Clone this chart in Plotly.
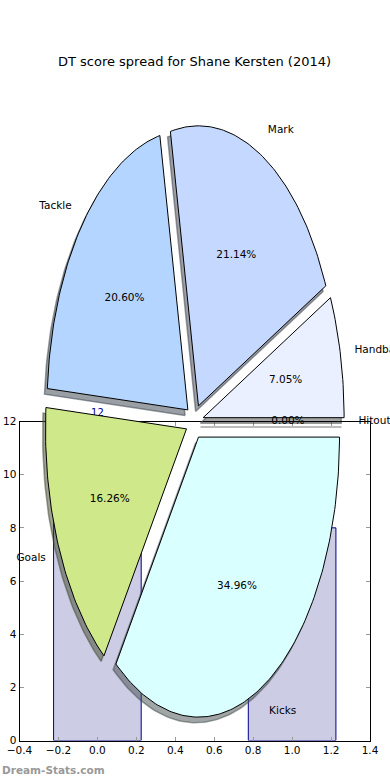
import numpy as np
import plotly.graph_objects as go

# ---------------- data ----------------
title = "DT score spread for Shane Kersten (2014)"
slice_labels = ["Handball", "Mark", "Tackle", "Goals", "Kicks", "Hitout"]
slice_pct = [7.05, 21.14, 20.60, 16.26, 34.96, 0.00]
slice_colors = ["#eaf0ff", "#c5d8ff", "#b4d5ff", "#cfe98a", "#d9ffff", "#ffffff"]
slice_explode = [0.0625, 0.0625, 0.0625, 0.0625, 0.0625, 0.0625]

bar_x = [0, 1]
bar_values = [12, 8]
bar_labels = ["12", "8"]

x_ticks = [-0.4, -0.2, 0.0, 0.2, 0.4, 0.6, 0.8, 1.0, 1.2, 1.4]
y_ticks = [0, 2, 4, 6, 8, 10, 12]

# ---------------- layout geometry ----------------
W, H = 390, 780
ax_left, ax_right, ax_top, ax_bottom = 19.5, 370, 421.5, 740.5   # bar axes in px
pie_cx, pie_cy, pie_rx, pie_ry = 194.5, 421.5, 141, 280          # pie placement in px
label_lift = 0.1                                                   # bar label offset (y units)
extra_px = 40                                                      # headroom for bar labels
FONT = "DejaVu Sans"

fig = go.Figure()

# ---------------- bars ----------------
fig.add_trace(go.Bar(
    x=bar_x, y=bar_values, width=0.45,
    marker=dict(color="#ccccE5", line=dict(color="#00008b", width=1)),
    xaxis="x", yaxis="y", showlegend=False, hoverinfo="skip"))
# bar value labels on a same-scale helper subplot with headroom (drawn below the pie)
fig.add_trace(go.Scatter(
    x=bar_x, y=[v + label_lift for v in bar_values], mode="text", text=bar_labels,
    textposition="top center", textfont=dict(color="#00008b", size=10, family=FONT),
    xaxis="x2", yaxis="y2", showlegend=False, hoverinfo="skip", cliponaxis=False))

# ---------------- pie (exploded, shadowed wedges) ----------------
total = sum(slice_pct)
fracs = [v / total for v in slice_pct]
starts = np.concatenate([[0.0], np.cumsum(fracs)[:-1]]) * 360.0
ends = np.cumsum(fracs) * 360.0


def wedge(t1, t2, ex, ox=0.0, oy=0.0):
    mid = np.radians((t1 + t2) / 2)
    cx, cy = ex * np.cos(mid) + ox, ex * np.sin(mid) + oy
    th = np.radians(np.linspace(t1, t2, max(2, int(abs(t2 - t1)) + 2)))
    xs = np.concatenate([[cx], cx + np.cos(th), [cx]])
    ys = np.concatenate([[cy], cy + np.sin(th), [cy]])
    return xs, ys, cx, cy, mid


# shadows first
for t1, t2, ex, col in zip(starts, ends, slice_explode, slice_colors):
    xs, ys, *_ = wedge(t1, t2, ex, -0.02, -0.02)
    rgb = [int(col[i:i + 2], 16) for i in (1, 3, 5)]
    sh = "rgba(%d,%d,%d,0.5)" % tuple(int(0.3 * c) for c in rgb)
    fig.add_trace(go.Scatter(
        x=xs, y=ys, fill="toself", fillcolor=sh, mode="lines",
        line=dict(color=sh, width=1.5), xaxis="x3", yaxis="y3",
        showlegend=False, hoverinfo="skip"))

lab_x, lab_y, lab_t, lab_pos = [], [], [], []
pct_x, pct_y, pct_t = [], [], []
for lab, v, t1, t2, ex, col in zip(slice_labels, slice_pct, starts, ends,
                                   slice_explode, slice_colors):
    xs, ys, cx, cy, mid = wedge(t1, t2, ex)
    fig.add_trace(go.Scatter(
        x=xs, y=ys, fill="toself", fillcolor=col, mode="lines",
        line=dict(color="black", width=1), xaxis="x3", yaxis="y3",
        showlegend=False, hoverinfo="skip"))
    lx, ly = cx + 1.1 * np.cos(mid), cy + 1.1 * np.sin(mid)
    lab_x.append(lx); lab_y.append(ly); lab_t.append(lab)
    lab_pos.append("middle right" if lx > 0 else "middle left")
    pct_x.append(cx + 0.6 * np.cos(mid)); pct_y.append(cy + 0.6 * np.sin(mid))
    pct_t.append("%.2f%%" % v)

fig.add_trace(go.Scatter(
    x=lab_x, y=lab_y, mode="text", text=lab_t, textposition=lab_pos,
    textfont=dict(size=10.5, color="black", family=FONT),
    xaxis="x3", yaxis="y3", showlegend=False, hoverinfo="skip", cliponaxis=False))
fig.add_trace(go.Scatter(
    x=pct_x, y=pct_y, mode="text", text=pct_t, textposition="middle center",
    textfont=dict(size=10.5, color="black", family=FONT),
    xaxis="x3", yaxis="y3", showlegend=False, hoverinfo="skip", cliponaxis=False))

annotations = [dict(text="<b>Dream-Stats.com</b>", x=0, y=1 - 770 / H,
                    xref="paper", yref="paper", xanchor="left", yanchor="middle",
                    showarrow=False,
                    font=dict(size=10.5, color="#999999", family=FONT))]

# ---------------- layout ----------------
axis_common = dict(showline=True, linecolor="black", linewidth=1, mirror="allticks",
                   ticks="inside", ticklen=4, tickcolor="#999999", showgrid=False,
                   zeroline=False, automargin=False,
                   tickfont=dict(size=10.5, color="black", family=FONT))
y_top_ext = y_ticks[-1] * (ax_bottom - (ax_top - extra_px)) / (ax_bottom - ax_top)
fig.update_layout(
    template="none",
    width=W, height=H, autosize=False,
    margin=dict(l=0, r=0, t=0, b=0, pad=0),
    paper_bgcolor="white", plot_bgcolor="rgba(0,0,0,0)",
    font=dict(family=FONT, color="black"),
    title=dict(text=title, x=194.5 / W, xanchor="center", y=1 - 61 / H, yanchor="middle",
               automargin=False, font=dict(size=13, color="black", family=FONT)),
    xaxis=dict(domain=[ax_left / W, ax_right / W], anchor="y", range=[-0.4, 1.4],
               tickvals=x_ticks, tickformat=".1f", **axis_common),
    yaxis=dict(domain=[1 - ax_bottom / H, 1 - ax_top / H], anchor="x", range=[0, 12],
               tickvals=y_ticks, **axis_common),
    xaxis2=dict(domain=[ax_left / W, ax_right / W], anchor="y2", range=[-0.4, 1.4],
                visible=False, automargin=False),
    yaxis2=dict(domain=[1 - ax_bottom / H, 1 - (ax_top - extra_px) / H], anchor="x2",
                range=[0, y_top_ext], visible=False, automargin=False),
    xaxis3=dict(domain=[0, 1], anchor="y3", automargin=False,
                range=[-pie_cx / pie_rx, (W - pie_cx) / pie_rx], visible=False),
    yaxis3=dict(domain=[0, 1], anchor="x3", automargin=False,
                range=[-(H - pie_cy) / pie_ry, pie_cy / pie_ry], visible=False),
    annotations=annotations,
)

fig.write_html("out.html", config={"displayModeBar": False},
               post_script="document.body.style.margin='0px';"
                           "document.body.style.overflow='hidden';")
